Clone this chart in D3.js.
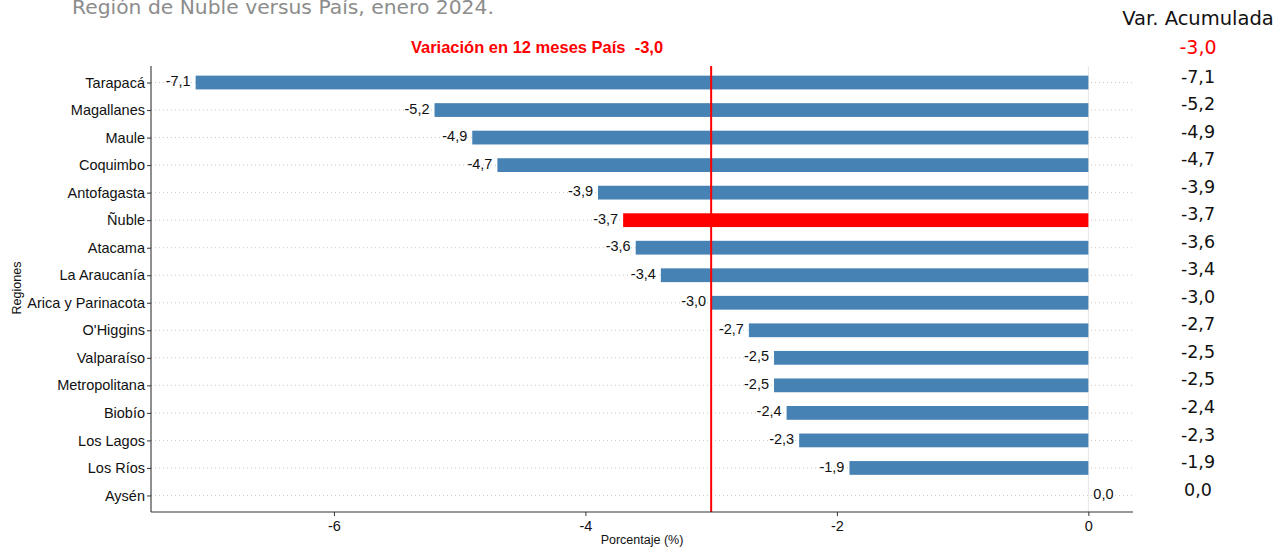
<!DOCTYPE html>
<html>
<head>
<meta charset="utf-8">
<script src="https://cdn.jsdelivr.net/npm/d3@7"></script>
<style>
  body { margin: 0; background: #fff; }
  svg { display: block; }
</style>
</head>
<body>
<div class="chart"></div>
<script>
// data
const regiones = ["Tarapacá", "Magallanes", "Maule", "Coquimbo", "Antofagasta", "Ñuble",
  "Atacama", "La Araucanía", "Arica y Parinacota", "O'Higgins", "Valparaíso",
  "Metropolitana", "Biobío", "Los Lagos", "Los Ríos", "Aysén"];
const var12 = [-7.1, -5.2, -4.9, -4.7, -3.9, -3.7, -3.6, -3.4, -3.0, -2.7, -2.5, -2.5, -2.4, -2.3, -1.9, 0.0];
const varAcum = [-7.1, -5.2, -4.9, -4.7, -3.9, -3.7, -3.6, -3.4, -3.0, -2.7, -2.5, -2.5, -2.4, -2.3, -1.9, 0.0];
const pais12 = -3.0;
const paisAcum = -3.0;
const xTicks = [-6, -4, -2, 0];

const svgWidth = 1279;
const svgHeight = 548;
const margin = {top: 66, right: 146, bottom: 36, left: 151};
const chartWidth = svgWidth - margin.left - margin.right;
const chartHeight = svgHeight - margin.top - margin.bottom;

const fmt = v => v.toFixed(1).replace(".", ",");
const sans = "Liberation Sans, Arial, sans-serif";

const svg = d3.select(".chart").append("svg")
  .attr("width", svgWidth)
  .attr("height", svgHeight);

const chart = svg.append("g")
  .attr("transform", `translate(${margin.left},${margin.top})`);

// scales, with ggplot-like expansion
const xMin = d3.min(var12), xMax = 0;
const pad = (xMax - xMin) * 0.05;
const x = d3.scaleLinear()
  .domain([xMin - pad, xMax + pad])
  .range([0, chartWidth]);

const y = d3.scalePoint()
  .domain(regiones)
  .range([0, chartHeight])
  .padding(0.6);
const step = y.step();

// dotted horizontal grid
chart.selectAll(".grid")
  .data(regiones)
  .enter().append("line")
  .attr("x1", 0).attr("x2", chartWidth)
  .attr("y1", d => y(d)).attr("y2", d => y(d))
  .attr("stroke", "#c8c8c8")
  .attr("stroke-width", 1)
  .attr("stroke-dasharray", "1,3");

// light line at zero
chart.append("line")
  .attr("x1", x(0)).attr("x2", x(0))
  .attr("y1", 0).attr("y2", chartHeight)
  .attr("stroke", "#e6e6e6")
  .attr("stroke-width", 1);

// bars
chart.selectAll(".bar")
  .data(regiones)
  .enter().append("rect")
  .attr("x", (d, i) => x(Math.min(0, var12[i])))
  .attr("width", (d, i) => Math.abs(x(var12[i]) - x(0)))
  .attr("y", d => y(d) - step * 0.25)
  .attr("height", step * 0.5)
  .attr("fill", d => d === "Ñuble" ? "#ff0000" : "steelblue");

// value labels
chart.selectAll(".lbl")
  .data(regiones)
  .enter().append("text")
  .attr("x", (d, i) => var12[i] < 0 ? x(var12[i]) - 5 : x(var12[i]) + 5)
  .attr("y", d => y(d) - 1.5)
  .attr("dy", "0.35em")
  .attr("text-anchor", (d, i) => var12[i] < 0 ? "end" : "start")
  .attr("font-family", sans)
  .attr("font-size", 14.5)
  .attr("fill", "#111")
  .text((d, i) => fmt(var12[i]));

// country line
chart.append("line")
  .attr("x1", x(pais12)).attr("x2", x(pais12))
  .attr("y1", 0).attr("y2", chartHeight)
  .attr("stroke", "#ff0000")
  .attr("stroke-width", 2);

// axes
const bottomAxis = d3.axisBottom(x).tickValues(xTicks).tickSize(4).tickFormat(d3.format("d"));
const leftAxis = d3.axisLeft(y).tickSize(4);

const gx = chart.append("g")
  .attr("transform", `translate(0,${chartHeight})`)
  .call(bottomAxis);
const gy = chart.append("g").call(leftAxis);

[gx, gy].forEach(g => {
  g.select(".domain").attr("stroke", "#333").attr("stroke-width", 1.1);
  g.selectAll(".tick line").attr("stroke", "#333");
  g.selectAll(".tick text")
    .attr("font-family", sans)
    .attr("font-size", 14.5)
    .attr("fill", "#111");
});
gx.select(".domain").attr("d", `M0,0H${chartWidth}`);
gy.select(".domain").attr("d", `M0,0V${chartHeight}`);
gx.selectAll(".tick text").attr("dy", "0.85em").text(d => String(d));
gy.selectAll(".tick text").attr("x", -6);

// axis titles
svg.append("text")
  .attr("x", margin.left + chartWidth / 2)
  .attr("y", 544)
  .attr("text-anchor", "middle")
  .attr("font-family", sans)
  .attr("font-size", 12.5)
  .attr("fill", "#111")
  .text("Porcentaje (%)");

svg.append("text")
  .attr("transform", `translate(21,${margin.top + chartHeight / 2 - 1}) rotate(-90)`)
  .attr("text-anchor", "middle")
  .attr("font-family", sans)
  .attr("font-size", 12.5)
  .attr("fill", "#111")
  .text("Regiones");

// annotation
svg.append("text")
  .attr("x", 537)
  .attr("y", 53)
  .attr("text-anchor", "middle")
  .style("white-space", "pre")
  .attr("font-family", sans)
  .attr("font-weight", "bold")
  .attr("font-size", 16.5)
  .attr("fill", "#ff0000")
  .text("Variación en 12 meses País  " + fmt(pais12));

// clipped title
svg.append("text")
  .attr("x", 72)
  .attr("y", 14)
  .attr("font-family", "DejaVu Sans, sans-serif")
  .attr("font-size", 20.3)
  .attr("fill", "#8c8c8c")
  .text("Región de Ñuble versus País, enero 2024.");

// right column
const colX = 1198;
svg.append("text")
  .attr("x", colX)
  .attr("y", 25)
  .attr("text-anchor", "middle")
  .attr("font-family", "DejaVu Sans, sans-serif")
  .attr("font-size", 19.5)
  .attr("fill", "#111")
  .text("Var. Acumulada");

svg.append("text")
  .attr("x", colX)
  .attr("y", margin.top + y(regiones[0]) - step - 8)
  .attr("dy", "0.35em")
  .attr("text-anchor", "middle")
  .attr("font-family", "DejaVu Sans, sans-serif")
  .attr("font-size", 19)
  .attr("fill", "#ff0000")
  .text(fmt(paisAcum));

svg.selectAll(".acum")
  .data(regiones)
  .enter().append("text")
  .attr("x", colX)
  .attr("y", d => margin.top + y(d) - 6)
  .attr("dy", "0.35em")
  .attr("text-anchor", "middle")
  .attr("font-family", "DejaVu Sans, sans-serif")
  .attr("font-size", 17.5)
  .attr("fill", "#111")
  .text((d, i) => fmt(varAcum[i]));
</script>
</body>
</html>
